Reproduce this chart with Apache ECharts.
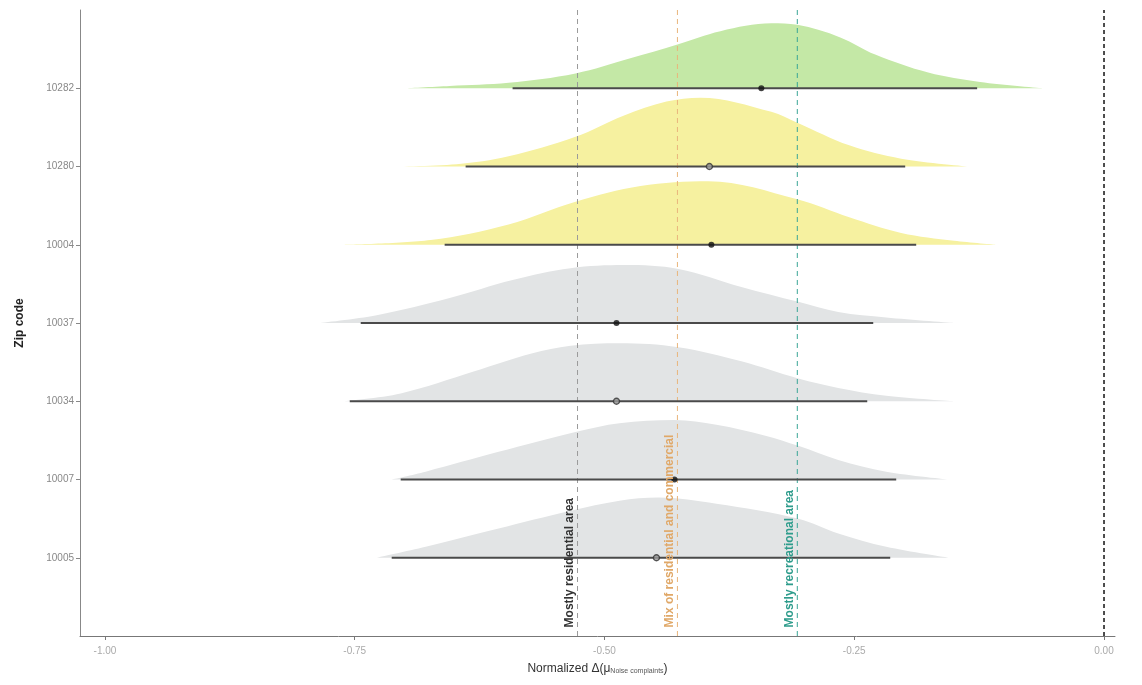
<!DOCTYPE html>
<html>
<head>
<meta charset="utf-8">
<script src="https://cdn.jsdelivr.net/npm/echarts@6/dist/echarts.min.js"></script>
<style>html,body{margin:0;padding:0;background:#fff}#chart{width:1142px;height:685px}</style>
</head>
<body>
<div id="chart"></div>
<script>
// ---- data ----
const zipCodes = ['10005', '10007', '10034', '10037', '10004', '10280', '10282']; // bottom -> top (y = 1..7)
const rowColors = ['#e2e4e5', '#e2e4e5', '#e2e4e5', '#e2e4e5', '#f6f1a0', '#f6f1a0', '#c4e8a6'];

const dens10005X = [-0.728, -0.679, -0.607, -0.534, -0.485, -0.446, -0.388, -0.306, -0.266, -0.218, -0.155];
const dens10005H = [0, 0.14, 0.37, 0.60, 0.73, 0.77, 0.69, 0.50, 0.31, 0.14, 0];
const dens10007X = [-0.713, -0.679, -0.607, -0.528, -0.485, -0.430, -0.388, -0.339, -0.306, -0.266, -0.218, -0.155];
const dens10007H = [0, 0.10, 0.35, 0.61, 0.72, 0.76, 0.70, 0.56, 0.43, 0.25, 0.10, 0];
const dens10034X = [-0.762, -0.704, -0.631, -0.573, -0.534, -0.485, -0.426, -0.363, -0.306, -0.266, -0.218, -0.150];
const dens10034H = [0, 0.10, 0.38, 0.61, 0.71, 0.74, 0.69, 0.51, 0.29, 0.17, 0.07, 0];
const dens10037X = [-0.786, -0.728, -0.655, -0.592, -0.534, -0.480, -0.426, -0.363, -0.306, -0.266, -0.218, -0.150];
const dens10037H = [0, 0.10, 0.32, 0.55, 0.70, 0.74, 0.69, 0.46, 0.27, 0.14, 0.07, 0];
const dens10004X = [-0.763, -0.674, -0.596, -0.529, -0.464, -0.396, -0.307, -0.255, -0.203, -0.150, -0.108];
const dens10004H = [0, 0.06, 0.26, 0.55, 0.75, 0.81, 0.58, 0.35, 0.15, 0.05, 0];
const dens10280X = [-0.716, -0.648, -0.596, -0.529, -0.481, -0.438, -0.404, -0.333, -0.307, -0.255, -0.203, -0.135];
const dens10280H = [0, 0.03, 0.13, 0.38, 0.65, 0.83, 0.88, 0.70, 0.56, 0.27, 0.10, 0];
const dens10282X = [-0.700, -0.655, -0.596, -0.529, -0.475, -0.427, -0.384, -0.333, -0.307, -0.264, -0.229, -0.176, -0.124, -0.061];
const dens10282H = [0, 0.03, 0.07, 0.19, 0.38, 0.56, 0.73, 0.83, 0.81, 0.65, 0.43, 0.20, 0.08, 0];

const intervalLow  = [-0.713, -0.704, -0.755, -0.744, -0.660, -0.639, -0.592];
const intervalHigh = [-0.214, -0.208, -0.237, -0.231, -0.188, -0.199, -0.127];
const pointEst     = [-0.448, -0.430, -0.488, -0.488, -0.393, -0.395, -0.343];
const pointHollow  = [true, false, true, false, false, true, false];

const refLineX      = [-0.527, -0.427, -0.307];
const refLineLabels = ['Mostly residential area', 'Mix of residential and commercial', 'Mostly recreational area'];
const refLineColors = ['#9a9a9a', '#e9b57c', '#3aa596'];
const refLabelColors = ['#333333', '#e0a868', '#2e9c8c'];
const zeroLineX = 0;

const xTickValues = [-1.00, -0.75, -0.50, -0.25, 0.00];
const yTickValues = [1, 2, 3, 4, 5, 6, 7];

// ---- build ----
const densX = [dens10005X, dens10007X, dens10034X, dens10037X, dens10004X, dens10280X, dens10282X];
const densH = [dens10005H, dens10007H, dens10034H, dens10037H, dens10004H, dens10280H, dens10282H];

const series = [];
densX.forEach((xs, i) => {
  const base = i + 1;
  series.push({
    type: 'line',
    smooth: 0.35,
    symbol: 'none',
    silent: true,
    z: 1,
    lineStyle: { width: 0 },
    areaStyle: { color: rowColors[i], opacity: 1, origin: base },
    data: xs.map((x, k) => [x, base + densH[i][k]])
  });
});

// reference dashed lines
series.push({
  type: 'custom',
  silent: true,
  z: 3,
  data: refLineX.map((x, i) => [x, i]),
  renderItem: function (params, api) {
    const i = api.value(1);
    const p0 = api.coord([api.value(0), 0]);
    const p1 = api.coord([api.value(0), 8]);
    return {
      type: 'line',
      shape: { x1: p0[0], y1: p0[1], x2: p1[0], y2: p1[1] },
      style: { stroke: refLineColors[i], lineWidth: 1, lineDash: [5, 4] }
    };
  }
});
// zero line
series.push({
  type: 'custom',
  silent: true,
  z: 3,
  data: [[zeroLineX]],
  renderItem: function (params, api) {
    const p0 = api.coord([api.value(0), 0]);
    const p1 = api.coord([api.value(0), 8]);
    return {
      type: 'line',
      shape: { x1: p0[0], y1: p0[1], x2: p1[0], y2: p1[1] },
      style: { stroke: '#222', lineWidth: 1.6, lineDash: [4, 3] }
    };
  }
});
// intervals
series.push({
  type: 'custom',
  silent: true,
  z: 4,
  data: intervalLow.map((lo, i) => [lo, intervalHigh[i], i + 1]),
  renderItem: function (params, api) {
    const a = api.coord([api.value(0), api.value(2)]);
    const b = api.coord([api.value(1), api.value(2)]);
    return {
      type: 'line',
      shape: { x1: a[0], y1: a[1], x2: b[0], y2: b[1] },
      style: { stroke: '#4a4a4a', lineWidth: 1.8 }
    };
  }
});
// point estimates
series.push({
  type: 'scatter',
  z: 5,
  symbolSize: 6,
  data: pointEst.map((x, i) => ({
    value: [x, i + 1],
    itemStyle: pointHollow[i]
      ? { color: '#9a9a9a', borderColor: '#333', borderWidth: 1.4 }
      : { color: '#111', borderWidth: 0 }
  }))
});
// vertical labels
series.push({
  type: 'custom',
  silent: true,
  z: 6,
  data: refLineX.map((x, i) => [x, i]),
  renderItem: function (params, api) {
    const i = api.value(1);
    const p = api.coord([api.value(0), 0.11]);
    return {
      type: 'text',
      x: p[0] - 2,
      y: p[1],
      rotation: Math.PI / 2,
      style: {
        text: refLineLabels[i],
        fill: refLabelColors[i],
        font: 'bold 12px "Liberation Sans", Arial, sans-serif',
        align: 'left',
        verticalAlign: 'bottom'
      }
    };
  }
});

const chart = echarts.init(document.getElementById('chart'), null, { renderer: 'canvas' });
chart.setOption({
  animation: false,
  backgroundColor: '#ffffff',
  textStyle: { fontFamily: '"Liberation Sans", Arial, sans-serif' },
  grid: { left: 80, right: 27, top: 10, bottom: 49, containLabel: false },
  xAxis: {
    type: 'value',
    min: -1.025,
    max: 0.011,
    splitLine: { show: false },
    axisLine: { show: true, onZero: false, lineStyle: { color: '#777', width: 1 } },
    axisTick: { show: true, customValues: xTickValues, length: 4, lineStyle: { color: '#777' } },
    axisLabel: {
      customValues: xTickValues,
      fontSize: 10,
      margin: 10,
      color: function (v) { return v === 0 ? '#444' : '#aaa'; },
      formatter: function (v) { return v.toFixed(2); }
    },
    name: '{a|Normalized Δ(μ}{s|Noise complaints}{a|)}',
    nameLocation: 'middle',
    nameGap: 26,
    nameTextStyle: {
      rich: {
        a: { fontSize: 12, color: '#333', fontFamily: '"Liberation Sans", Arial, sans-serif' },
        s: { fontSize: 7, color: '#555', padding: [6, 0, 0, 0], fontFamily: '"Liberation Sans", Arial, sans-serif' }
      }
    }
  },
  yAxis: {
    type: 'value',
    min: 0,
    max: 8,
    splitLine: { show: false },
    axisLine: { show: true, onZero: false, lineStyle: { color: '#888', width: 1 } },
    axisTick: { show: true, customValues: yTickValues, length: 4, lineStyle: { color: '#888' } },
    axisLabel: {
      customValues: yTickValues,
      fontSize: 10,
      color: '#888',
      margin: 6,
      formatter: function (v) { return zipCodes[Math.round(v) - 1] || ''; }
    },
    name: 'Zip code',
    nameLocation: 'middle',
    nameGap: 54,
    nameTextStyle: { fontSize: 12, fontWeight: 'bold', color: '#222' }
  },
  series: series
});
</script>
</body>
</html>
